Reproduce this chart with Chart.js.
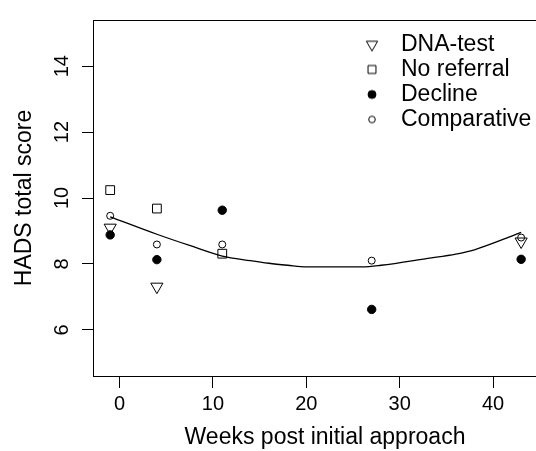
<!DOCTYPE html>
<html>
<head>
<meta charset="utf-8">
<script src="https://cdn.jsdelivr.net/npm/chart.js@4/dist/chart.umd.min.js"></script>
<style>
  html, body { margin: 0; padding: 0; background: #fff; overflow: hidden; width: 536px; height: 451px; }
  canvas { display: block; }
</style>
</head>
<body>
<canvas id="c" width="580" height="451"></canvas>
<script>
// ---- data ----
const seriesNames = ['DNA-test', 'No referral', 'Decline', 'Comparative'];
const dnaX = [-1, 4, 43];
const dnaY = [9.10, 7.31, 8.68];
const noRefX = [-1, 4, 11];
const noRefY = [10.24, 9.68, 8.31];
const declineX = [-1, 4, 11, 27, 43];
const declineY = [8.88, 8.13, 9.63, 6.62, 8.14];
const compX = [-1, 4, 11, 27, 43];
const compY = [9.46, 8.59, 8.59, 8.10, 8.80];
const fitX = [-1, 4, 7.5, 11, 14, 16, 18, 20, 26, 28, 33, 36, 38, 41.5, 43];
const fitY = [9.43, 8.90, 8.56, 8.24, 8.10, 8.02, 7.96, 7.91, 7.91, 7.96, 8.17, 8.30, 8.43, 8.79, 8.96];
const xTicks = [0, 10, 20, 30, 40];
const yTicks = [6, 8, 10, 12, 14];
const xTitle = 'Weeks post initial approach';
const yTitle = 'HADS total score';

const pts = (xs, ys) => xs.map((x, i) => ({ x: x, y: ys[i] }));
const FONT = "'Liberation Sans', Arial, Helvetica, sans-serif";

function icon(style, filled, r, rot) {
  const c = document.createElement('canvas');
  c.width = 24; c.height = 24;
  const ctx = c.getContext('2d');
  ctx.strokeStyle = '#000';
  ctx.fillStyle = filled ? '#000' : 'rgba(0,0,0,0)';
  ctx.lineWidth = 1;
  Chart.helpers.drawPoint(ctx, { pointStyle: style, radius: r, rotation: rot || 0, borderWidth: 1 }, 12, 12);
  return c;
}
const legendIcons = [
  icon('triangle', false, 6.5, 180),
  icon('rect', false, 5.6, 0),
  icon('circle', true, 4, 0),
  icon('circle', false, 3.3, 0)
];

const boxPlugin = {
  id: 'box',
  afterLayout(chart) {
    const lg = chart.legend;
    if (lg) {
      lg.left = 352.5; lg.top = 31;
      lg.right = lg.left + lg.width + 10; lg.bottom = lg.top + 300;
    }
  },
  afterDraw(chart) {
    const a = chart.chartArea, ctx = chart.ctx;
    ctx.save();
    ctx.strokeStyle = '#000';
    ctx.lineWidth = 1;
    ctx.beginPath();
    ctx.moveTo(Math.round(a.left) + 0.5, Math.round(a.top) + 0.5);
    ctx.lineTo(Math.round(a.right) + 0.5, Math.round(a.top) + 0.5);
    ctx.lineTo(Math.round(a.right) + 0.5, Math.round(a.bottom) + 0.5);
    ctx.stroke();
    ctx.restore();
  }
};

new Chart(document.getElementById('c'), {
  type: 'scatter',
  data: {
    datasets: [
      { label: seriesNames[0], data: pts(dnaX, dnaY), pointStyle: 'triangle', rotation: 180,
        pointRadius: 7, pointHoverRadius: 7, borderColor: '#000', backgroundColor: 'rgba(0,0,0,0)', borderWidth: 1, order: 1 },
      { label: seriesNames[1], data: pts(noRefX, noRefY), pointStyle: 'rect',
        pointRadius: 6.2, pointHoverRadius: 6.2, borderColor: '#000', backgroundColor: 'rgba(0,0,0,0)', borderWidth: 1, order: 1 },
      { label: seriesNames[2], data: pts(declineX, declineY), pointStyle: 'circle',
        pointRadius: 4.2, pointHoverRadius: 4.2, borderColor: '#000', backgroundColor: '#000', borderWidth: 1, order: 0 },
      { label: seriesNames[3], data: pts(compX, compY), pointStyle: 'circle',
        pointRadius: 3.5, pointHoverRadius: 3.5, borderColor: '#000', backgroundColor: 'rgba(0,0,0,0)', borderWidth: 1, order: 1 },
      { label: 'fit', type: 'line', data: pts(fitX, fitY), showLine: true, pointRadius: 0,
        borderColor: '#000', borderWidth: 1.3, cubicInterpolationMode: 'monotone', fill: false, order: 2 }
    ]
  },
  options: {
    responsive: false,
    animation: false,
    devicePixelRatio: 1,
    layout: { padding: { left: 0, top: 15, right: 23, bottom: 0 } },
    plugins: {
      tooltip: { enabled: false },
      legend: {
        display: true,
        position: 'chartArea',
        align: 'start',
        labels: {
          usePointStyle: true,
          pointStyleWidth: 35,
          boxHeight: 8,
          padding: 2,
          color: '#000',
          font: { family: FONT, size: 23 },
          filter: (item) => item.datasetIndex < 4,
          sort: (a, b) => a.datasetIndex - b.datasetIndex,
          generateLabels(chart) {
            const items = Chart.defaults.plugins.legend.labels.generateLabels(chart);
            items.forEach((it) => {
              if (it.datasetIndex < 4) { it.pointStyle = legendIcons[it.datasetIndex]; it.rotation = 0; }
            });
            return items;
          }
        }
      }
    },
    scales: {
      x: {
        type: 'linear', position: 'bottom',
        min: -2.84, max: 46.84,
        afterBuildTicks: (s) => { s.ticks = xTicks.map(v => ({ value: v })); },
        afterFit: (s) => { s.height = 75; },
        grid: { display: true, drawOnChartArea: false, drawTicks: true, tickLength: 12, tickColor: '#000', tickWidth: 1 },
        border: { display: true, color: '#000', width: 1 },
        ticks: { color: '#000', font: { family: FONT, size: 20 }, padding: 4.5, maxRotation: 0, autoSkip: false },
        title: { display: true, text: xTitle, color: '#000', font: { family: FONT, size: 23 }, padding: { top: 0, bottom: 0 } }
      },
      y: {
        type: 'linear', position: 'left',
        min: 4.6, max: 15.4,
        afterBuildTicks: (s) => { s.ticks = yTicks.map(v => ({ value: v })); },
        afterFit: (s) => { s.width = 93; },
        grid: { display: true, drawOnChartArea: false, drawTicks: true, tickLength: 11, tickColor: '#000', tickWidth: 1 },
        border: { display: true, color: '#000', width: 1 },
        ticks: { color: '#000', font: { family: FONT, size: 20 }, padding: 8, minRotation: 90, maxRotation: 90, crossAlign: 'center', autoSkip: false },
        title: { display: true, text: yTitle, color: '#000', font: { family: FONT, size: 23 }, padding: { top: 11, bottom: 0 } }
      }
    }
  },
  plugins: [boxPlugin]
});
</script>
</body>
</html>
